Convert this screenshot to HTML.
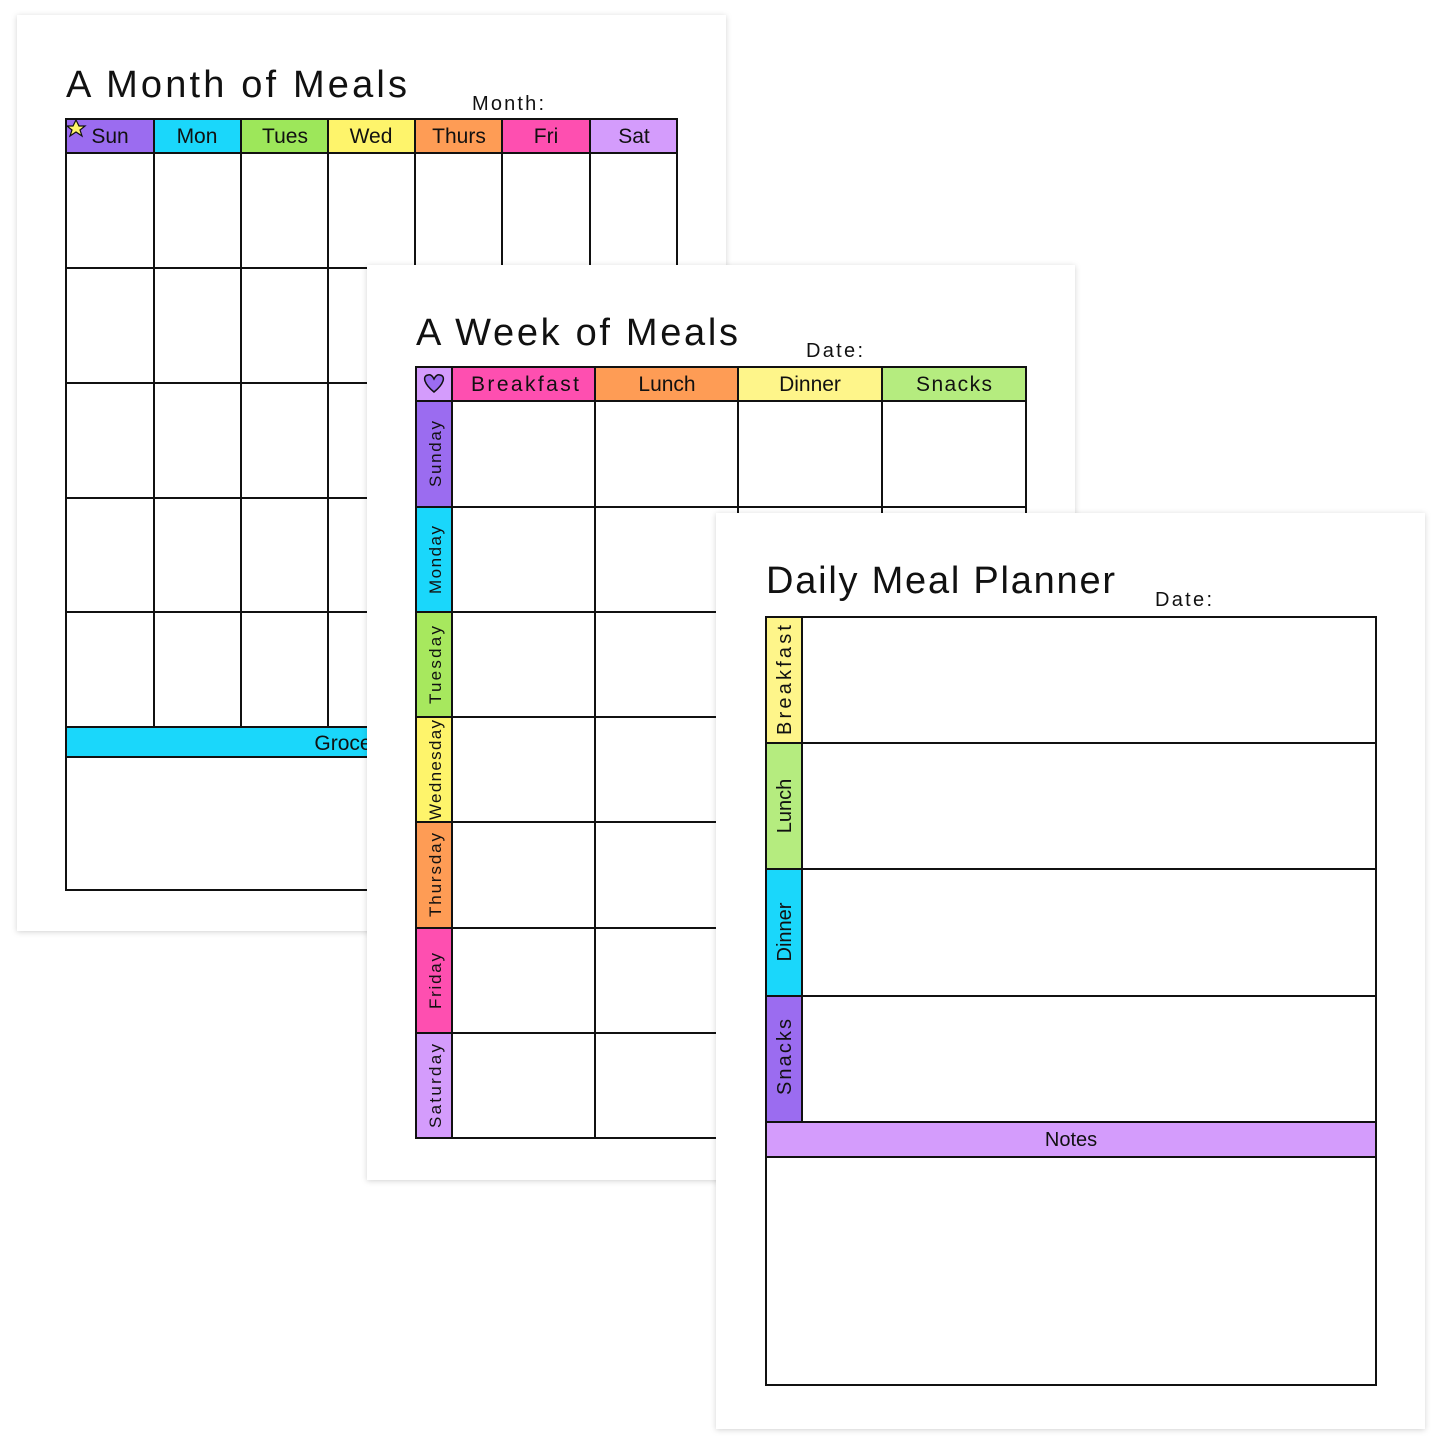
<!DOCTYPE html><html><head><style>body{margin:0;background:#fff}svg{display:block}text{font-family:"Liberation Sans",sans-serif;fill:#111}</style></head><body>
<svg width="1445" height="1445" viewBox="0 0 1445 1445">
<defs><filter id="s" x="-5%" y="-5%" width="110%" height="110%"><feDropShadow dx="0" dy="1" stdDeviation="3" flood-color="#000" flood-opacity="0.18"/></filter></defs>
<!-- Page 1 -->
<rect x="17" y="15" width="709" height="916" fill="#fff" filter="url(#s)"/>
<text x="66" y="97" font-size="38" textLength="341" lengthAdjust="spacing">A Month of Meals</text>
<text x="472" y="110" font-size="20" textLength="72" lengthAdjust="spacing">Month:</text>
<g stroke="#111" stroke-width="2">
<rect x="66" y="119" width="88" height="34" fill="#9b6cf0"/><rect x="154" y="119" width="87" height="34" fill="#1ad7fb"/><rect x="241" y="119" width="87" height="34" fill="#9de75a"/><rect x="328" y="119" width="87" height="34" fill="#fef46b"/><rect x="415" y="119" width="87" height="34" fill="#fe9c55"/><rect x="502" y="119" width="88" height="34" fill="#fe4fb0"/><rect x="590" y="119" width="87" height="34" fill="#d49cfc"/>
<rect x="66" y="153" width="611" height="737" fill="none"/>
<path d="M66 268H677M66 383H677M66 498H677M66 612H677M154 153V727M241 153V727M328 153V727M415 153V727M502 153V727M590 153V727" fill="none"/>
<rect x="66" y="727" width="611" height="30" fill="#1ad7fb"/>
</g>
<polygon points="76,120 79,126 85,126 80,130 82,136 76,132 70,136 72,130 67,126 73,126" fill="#fef46b" stroke="#111" stroke-width="1.2"/>
<g font-size="21" text-anchor="middle"><text x="110" y="143">Sun</text><text x="197" y="143">Mon</text><text x="285" y="143">Tues</text><text x="371" y="143">Wed</text><text x="459" y="143">Thurs</text><text x="546" y="143">Fri</text><text x="634" y="143">Sat</text><text x="371" y="750">Grocery List</text></g>
<!-- Page 2 -->
<rect x="367" y="265" width="708" height="915" fill="#fff" filter="url(#s)"/>
<text x="416" y="345" font-size="38" textLength="322" lengthAdjust="spacing">A Week of Meals</text>
<text x="806" y="357" font-size="20" textLength="57" lengthAdjust="spacing">Date:</text>
<g stroke="#111" stroke-width="2">
<rect x="416" y="367" width="36" height="34" fill="#d49cfc"/><rect x="452" y="367" width="143" height="34" fill="#fe4fb0"/><rect x="595" y="367" width="143" height="34" fill="#fe9c55"/><rect x="738" y="367" width="144" height="34" fill="#fef58a"/><rect x="882" y="367" width="144" height="34" fill="#b5ec7f"/>
<rect x="416" y="401" width="36" height="106" fill="#9b6cf0"/><rect x="416" y="507" width="36" height="105" fill="#1ad7fb"/><rect x="416" y="612" width="36" height="105" fill="#a7e85e"/><rect x="416" y="717" width="36" height="105" fill="#fef46b"/><rect x="416" y="822" width="36" height="106" fill="#fe9c55"/><rect x="416" y="928" width="36" height="105" fill="#fe4fb0"/><rect x="416" y="1033" width="36" height="105" fill="#d49cfc"/>
<rect x="452" y="401" width="574" height="737" fill="none"/>
<path d="M452 507H1026M452 612H1026M452 717H1026M452 822H1026M452 928H1026M452 1033H1026M595 401V1138M738 401V1138M882 401V1138" fill="none"/>
</g>
<path d="M434 392 C424 384 422 376 428 375 C431 374 433 377 434 379 C435 377 437 374 440 375 C446 376 444 384 434 392Z" fill="#9b6cf0" stroke="#111" stroke-width="1.5"/>
<g font-size="21" text-anchor="middle"><text x="525" y="391" textLength="108" lengthAdjust="spacing">Breakfast</text><text x="667" y="391">Lunch</text><text x="810" y="391">Dinner</text><text x="954" y="391" textLength="76" lengthAdjust="spacing">Snacks</text></g>
<g font-size="17" text-anchor="middle">
<text transform="translate(441 454) rotate(-90)" textLength="66" lengthAdjust="spacing">Sunday</text><text transform="translate(441 560) rotate(-90)" textLength="68" lengthAdjust="spacing">Monday</text><text transform="translate(441 665) rotate(-90)" textLength="78" lengthAdjust="spacing">Tuesday</text><text transform="translate(441 770) rotate(-90)" textLength="100" lengthAdjust="spacing">Wednesday</text><text transform="translate(441 875) rotate(-90)" textLength="84" lengthAdjust="spacing">Thursday</text><text transform="translate(441 981) rotate(-90)" textLength="56" lengthAdjust="spacing">Friday</text><text transform="translate(441 1086) rotate(-90)" textLength="84" lengthAdjust="spacing">Saturday</text></g>
<!-- Page 3 -->
<rect x="716" y="513" width="709" height="916" fill="#fff" filter="url(#s)"/>
<text x="766" y="593" font-size="38" textLength="349" lengthAdjust="spacing">Daily Meal Planner</text>
<text x="1155" y="606" font-size="20" textLength="57" lengthAdjust="spacing">Date:</text>
<g stroke="#111" stroke-width="2">
<rect x="766" y="617" width="36" height="126" fill="#fef58a"/><rect x="766" y="743" width="36" height="126" fill="#b5ec7f"/><rect x="766" y="869" width="36" height="127" fill="#1ad7fb"/><rect x="766" y="996" width="36" height="126" fill="#9b6cf0"/>
<rect x="802" y="617" width="574" height="505" fill="none"/>
<path d="M802 743H1376M802 869H1376M802 996H1376" fill="none"/>
<rect x="766" y="1122" width="610" height="35" fill="#d49cfc"/>
<rect x="766" y="1157" width="610" height="228" fill="none"/>
</g>
<g font-size="20" text-anchor="middle">
<text transform="translate(791 680) rotate(-90)" textLength="110" lengthAdjust="spacing">Breakfast</text><text transform="translate(791 806) rotate(-90)">Lunch</text><text transform="translate(791 932) rotate(-90)">Dinner</text><text transform="translate(791 1057) rotate(-90)" textLength="76" lengthAdjust="spacing">Snacks</text>
<text x="1071" y="1146">Notes</text></g>
</svg></body></html>
